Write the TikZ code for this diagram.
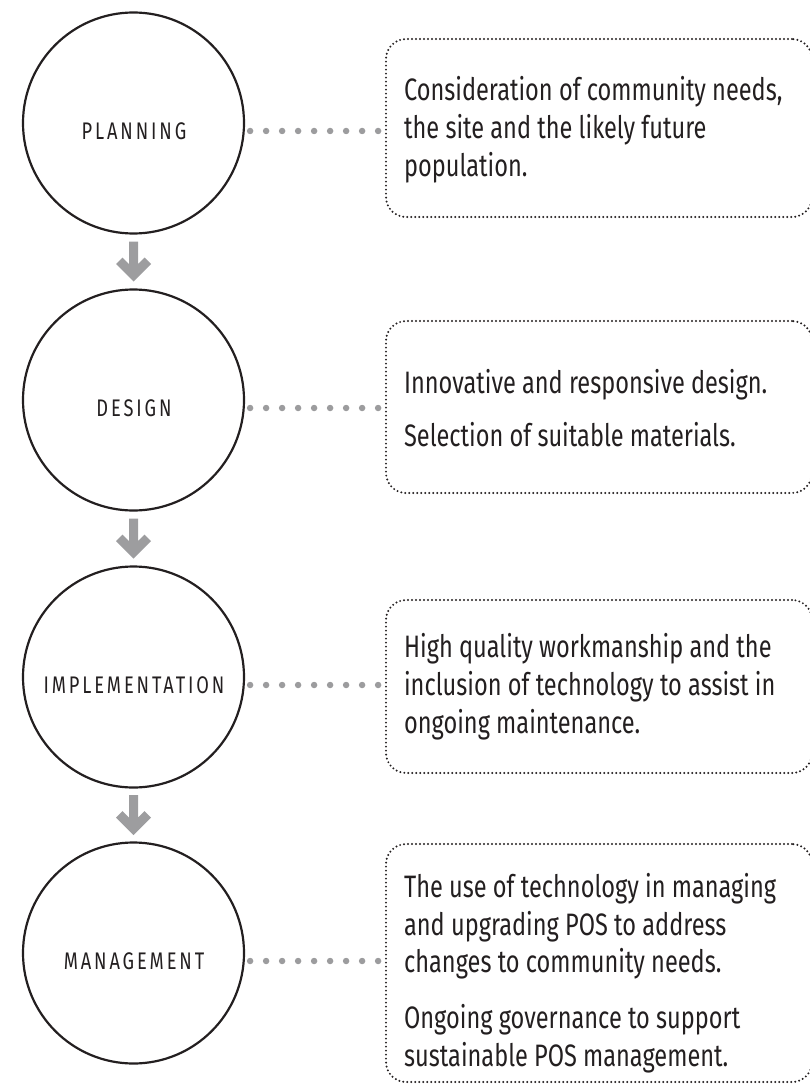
\documentclass[tikz,border=0pt]{standalone}
\usepackage{fontspec}
\setmainfont{Fira Sans}[FakeStretch=0.76]
\usetikzlibrary{calc}
\definecolor{ink}{HTML}{231F20}
\definecolor{arrowgray}{HTML}{9D9D9F}
\definecolor{dotgray}{HTML}{9C9C9E}
\begin{document}
\begin{tikzpicture}[x=1pt,y=-1pt,
  stagecircle/.style={circle, draw=ink, line width=2.2pt, minimum size=221pt, inner sep=0pt},
  stagelabel/.style={font=\fontsize{24}{26}\selectfont\addfontfeature{LetterSpace=12}, text=ink, inner sep=0pt},
  infobox/.style={draw=ink, line width=2.2pt, dash pattern=on 0pt off 4pt, line cap=round,
    rounded corners=20pt, minimum width=426pt, inner sep=0pt},
  infotext/.style={anchor=west, align=left, inner sep=0pt, font=\fontsize{31}{37.8}\selectfont, text=ink},
  dotlink/.style={draw=dotgray, line width=6.5pt, line cap=round, dash pattern=on 0pt off 16pt,
    shorten <=5pt, shorten >=6pt},
  pics/downarrow/.style={code={
    \fill[arrowgray] (0,20) -- (17.5,2.5) -- (11.1,-3.9) -- (4.5,2.7) -- (4.5,-20) -- (-4.5,-20)
      -- (-4.5,2.7) -- (-11.1,-3.9) -- (-17.5,2.5) -- cycle;}},
  ]
\useasboundingbox (0,0) rectangle (810,1086);

% stage circles
\node[stagecircle] (c1) at (133.5,123) {};
\node[stagecircle] (c2) at (133.5,400) {};
\node[stagecircle] (c3) at (133.5,677) {};
\node[stagecircle] (c4) at (133.5,953) {};

\node[stagelabel] (l1) at (134,131) {PLANNING};
\node[stagelabel] (l2) at (134,408) {DESIGN};
\node[stagelabel] (l3) at (134,685) {IMPLEMENTATION};
\node[stagelabel] (l4) at (134,961) {MANAGEMENT};

% info boxes
\node[infobox, minimum height=178pt] (b1) at (599,128) {};
\node[infobox, minimum height=172pt] (b2) at (599,407) {};
\node[infobox, minimum height=173pt] (b3) at (599,686.5) {};
\node[infobox, minimum height=238pt] (b4) at (599,963) {};

\node[infotext] (t1) at ($(b1.west)+(19,2)$)
  {Consideration of community needs,\\the site and the likely future\\population.};
\node[infotext] (t2) at ($(b2.west)+(19,1)$)
  {Innovative and responsive design.\\[15pt]Selection of suitable materials.};
\node[infotext] (t3) at ($(b3.west)+(19,0)$)
  {High quality workmanship and the\\inclusion of technology to assist in\\ongoing maintenance.};
\node[infotext] (t4) at ($(b4.west)+(19,10)$)
  {The use of technology in managing\\and upgrading POS to address\\changes to community needs.\\[18pt]Ongoing governance to support\\sustainable POS management.};

% dotted links
\draw[dotlink] (l1 -| c1.east) -- (l1 -| b1.west);
\draw[dotlink] (l2 -| c2.east) -- (l2 -| b2.west);
\draw[dotlink] (l3 -| c3.east) -- (l3 -| b3.west);
\draw[dotlink] (l4 -| c4.east) -- (l4 -| b4.west);

% arrows between stages
\pic at ($(c1.south)!0.5!(c2.north)$) {downarrow};
\pic at ($(c2.south)!0.5!(c3.north)$) {downarrow};
\pic at ($(c3.south)!0.5!(c4.north)$) {downarrow};
\end{tikzpicture}
\end{document}
